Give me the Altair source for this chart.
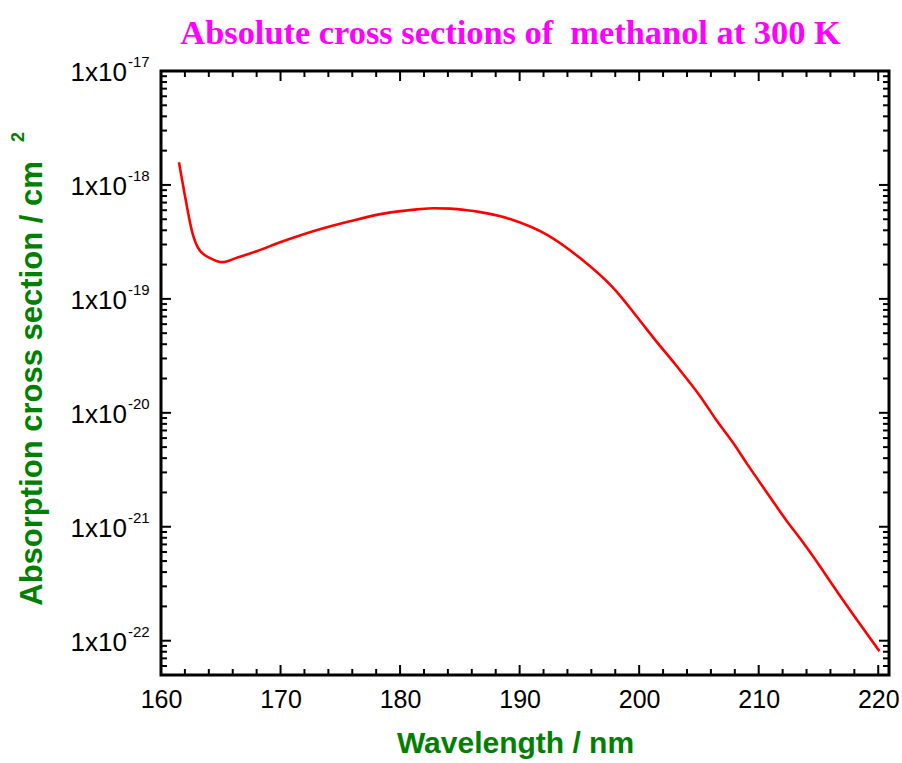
import altair as alt
import pandas as pd

# ---- data ----
wavelength = [161.5, 161.87, 162.2, 162.57, 163.1, 163.6, 164.1, 165.16, 166.3, 167.45,
              170.2, 173.0, 175.8, 178.6, 181.4, 182.8, 184.2, 185.6, 186.6, 188.4,
              189.5, 192.3, 195.06, 197.85, 199.53, 200.64, 201.2, 203.15, 205.1,
              206.5, 207.9, 209.0, 210.68, 212.36, 213.5, 214.6, 216.26, 216.8, 220.1]
cross_section = [1.58e-18, 9.6e-19, 6.2e-19, 4.0e-19, 2.8e-19, 2.45e-19, 2.28e-19, 2.1e-19, 2.29e-19, 2.5e-19,
                 3.2e-19, 4.0e-19, 4.8e-19, 5.6e-19, 6.1e-19, 6.25e-19, 6.2e-19, 6.0e-19, 5.8e-19, 5.3e-19,
                 4.9e-19, 3.65e-19, 2.28e-19, 1.24e-19, 7.6e-20, 5.4e-20, 4.55e-20, 2.56e-20, 1.40e-20,
                 8.5e-21, 5.37e-21, 3.6e-21, 2.0e-21, 1.12e-21, 7.8e-22, 5.4e-22, 3.0e-22, 2.48e-22, 8.1e-23]

x_major = [160, 170, 180, 190, 200, 210, 220]
x_minor = [162, 164, 166, 168, 172, 174, 176, 178, 182, 184, 186, 188,
           192, 194, 196, 198, 202, 204, 206, 208, 212, 214, 216, 218]
y_major = [1e-17, 1e-18, 1e-19, 1e-20, 1e-21, 1e-22]
y_major_base = ["1x10"] * 6
y_major_exp = ["-17", "-18", "-19", "-20", "-21", "-22"]
y_minor = [m * d for d in [1e-23, 1e-22, 1e-21, 1e-20, 1e-19, 1e-18]
           for m in [2, 3, 4, 5, 6, 7, 8, 9] if 5e-23 < m * d < 1e-17]

title_text = "Absolute cross sections of\u00a0\u00a0methanol at 300 K"
x_title = "Wavelength / nm"
y_title = "Absorption cross section / cm"

W, H = 728, 604
GREEN = "#008000"

xs = alt.Scale(domain=[160, 220.9], nice=False, zero=False)
ys = alt.Scale(type="log", domain=[5e-23, 1e-17], nice=False)

xaxis = alt.Axis(values=x_major, format="d", labelFont="Liberation Sans", labelFontSize=25,
                 labelColor="black", labelPadding=12, ticks=False, domain=False, grid=False,
                 labelFlush=False, labelOverlap=False,
                 titleFont="Liberation Sans", titleFontSize=30, titleFontWeight="bold",
                 titleColor=GREEN, titleX=354, titleY=77, titleAlign="center",
                 titleBaseline="alphabetic")
yaxis = alt.Axis(labels=False, ticks=False, domain=False, grid=False,
                 titleFont="Liberation Sans", titleFontSize=31, titleFontWeight="bold",
                 titleColor=GREEN, titleX=-129, titleY=312, titleAngle=270,
                 titleAlign="center", titleBaseline="middle")


def X(field):
    return alt.X(field, type="quantitative", scale=xs, axis=xaxis, title=x_title)


def Y(field):
    return alt.Y(field, type="quantitative", scale=ys, axis=yaxis, title=y_title)


df = pd.DataFrame({"wl": wavelength, "sigma": cross_section})

line = alt.Chart(df).mark_line(color="#ff0000", strokeWidth=2.6, interpolate="monotone").encode(
    x=X("wl"), y=Y("sigma"))

xmaj = pd.DataFrame({"wl": x_major})
xmin = pd.DataFrame({"wl": x_minor})
ymaj = pd.DataFrame({"sigma": y_major, "base": y_major_base, "exp": y_major_exp})
ymin = pd.DataFrame({"sigma": y_minor})

MAJ, MIN = 10, 6
tick = dict(color="black", strokeWidth=2)

layers = [
    alt.Chart(xmaj).mark_rule(**tick).encode(x=X("wl"), y=alt.value(H), y2=alt.value(H - MAJ)),
    alt.Chart(xmaj).mark_rule(**tick).encode(x=X("wl"), y=alt.value(0), y2=alt.value(MAJ)),
    alt.Chart(xmin).mark_rule(**tick).encode(x=X("wl"), y=alt.value(H), y2=alt.value(H - MIN)),
    alt.Chart(xmin).mark_rule(**tick).encode(x=X("wl"), y=alt.value(0), y2=alt.value(MIN)),
    alt.Chart(ymaj).mark_rule(**tick).encode(y=Y("sigma"), x=alt.value(0), x2=alt.value(MAJ)),
    alt.Chart(ymaj).mark_rule(**tick).encode(y=Y("sigma"), x=alt.value(W), x2=alt.value(W - MAJ)),
    alt.Chart(ymin).mark_rule(**tick).encode(y=Y("sigma"), x=alt.value(0), x2=alt.value(MIN)),
    alt.Chart(ymin).mark_rule(**tick).encode(y=Y("sigma"), x=alt.value(W), x2=alt.value(W - MIN)),
    alt.Chart(ymaj).mark_text(align="right", baseline="middle", dy=2, font="Liberation Sans",
                              fontSize=26, color="black").encode(
        y=Y("sigma"), x=alt.value(-34), text="base:N"),
    alt.Chart(ymaj).mark_text(align="left", baseline="middle", dy=-9, font="Liberation Sans",
                              fontSize=15, color="black").encode(
        y=Y("sigma"), x=alt.value(-33), text="exp:N"),
    alt.Chart(pd.DataFrame({"t": ["2"]})).mark_text(
        angle=270, font="Liberation Sans", fontSize=18, fontWeight="bold", color=GREEN,
        align="center", baseline="middle").encode(
        x=alt.value(-142.5), y=alt.value(66), text="t:N"),
    alt.Chart(pd.DataFrame({"t": [title_text]})).mark_text(
        font="Liberation Serif", fontSize=34.4, fontWeight="bold", color="#ff00ff",
        align="center", baseline="alphabetic").encode(
        x=alt.value(349.5), y=alt.value(-27), text="t:N"),
    line,
]

chart = alt.layer(*layers).properties(
    width=W, height=H,
    padding={"left": 161, "top": 71, "right": 13, "bottom": 88},
    autosize=alt.AutoSizeParams(type="none"),
).configure_view(stroke="black", strokeWidth=3)

chart.save("out.html", embed_options={"renderer": "svg", "actions": False})
